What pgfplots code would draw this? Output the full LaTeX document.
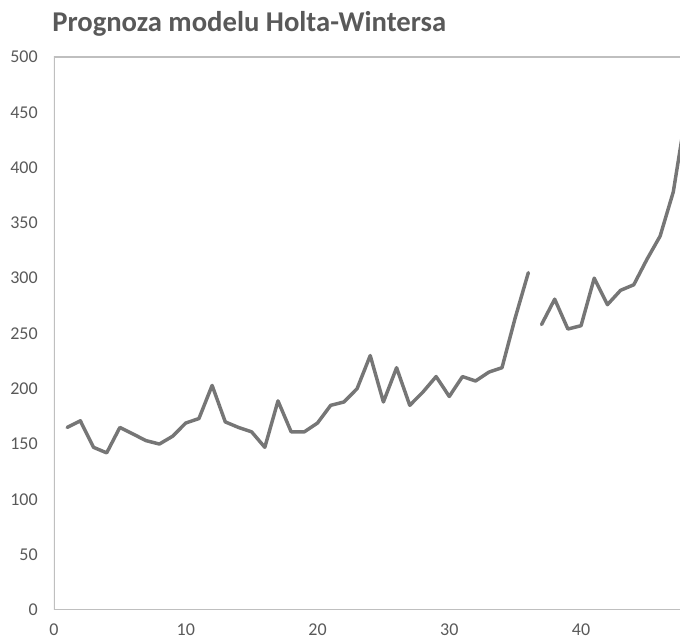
\documentclass[border=0pt]{standalone}
\usepackage{fontspec}
\setmainfont{Carlito}
\usepackage{pgfplots}
\pgfplotsset{compat=1.18}
\definecolor{txtgray}{RGB}{89,89,89}
\definecolor{linegray}{RGB}{118,118,118}
\definecolor{framegray}{RGB}{191,191,191}
\begin{document}
\begin{tikzpicture}
\begin{axis}[
  at={(0,0)}, anchor=south west,
  scale only axis,
  width=469.5pt, height=414.75pt,
  xmin=0, xmax=47.5,
  ymin=0, ymax=500,
  axis line style={draw=none},
  xtick={0,10,20,30,40},
  ytick={0,50,...,500},
  major tick length=0pt,
  /pgf/number format/assume math mode=true,
  tick label style={font=\fontsize{13.5}{16}\selectfont, text=txtgray, inner sep=0pt},
  xticklabel style={anchor=base, yshift=-19.5pt},
  yticklabel style={anchor=east, xshift=-12pt},
  clip=true,
]
\addplot[linegray, line width=2.6pt, line join=round, line cap=round] coordinates {
  (1,165) (2,171) (3,147) (4,142) (5,165) (6,159) (7,153) (8,150) (9,157) (10,169)
  (11,173) (12,203) (13,170) (14,165) (15,161) (16,147) (17,189) (18,161) (19,161) (20,169)
  (21,185) (22,188) (23,200) (24,230) (25,188) (26,219) (27,185) (28,197) (29,211) (30,193)
  (31,211) (32,207) (33,215) (34,219) (35,264) (36,305)
};
\addplot[linegray, line width=2.6pt, line join=round, line cap=round] coordinates {
  (37,258) (38,281) (39,254) (40,257) (41,300) (42,276) (43,289) (44,294) (45,317)
  (46,338) (47,378) (48,452)
};
\draw[framegray, line width=0.8pt] (rel axis cs:1,0) -- (rel axis cs:0,0) -- (rel axis cs:0,1) -- (rel axis cs:1,1);
\end{axis}
\node[anchor=base west, inner sep=0pt, text=txtgray, font=\fontsize{21.5}{25}\selectfont\bfseries] at (-1.5pt,433.5pt) {Prognoza modelu Holta-Wintersa};
\path[use as bounding box] (-40.5pt,-22.5pt) rectangle (469.5pt,457.5pt);
\end{tikzpicture}
\end{document}
